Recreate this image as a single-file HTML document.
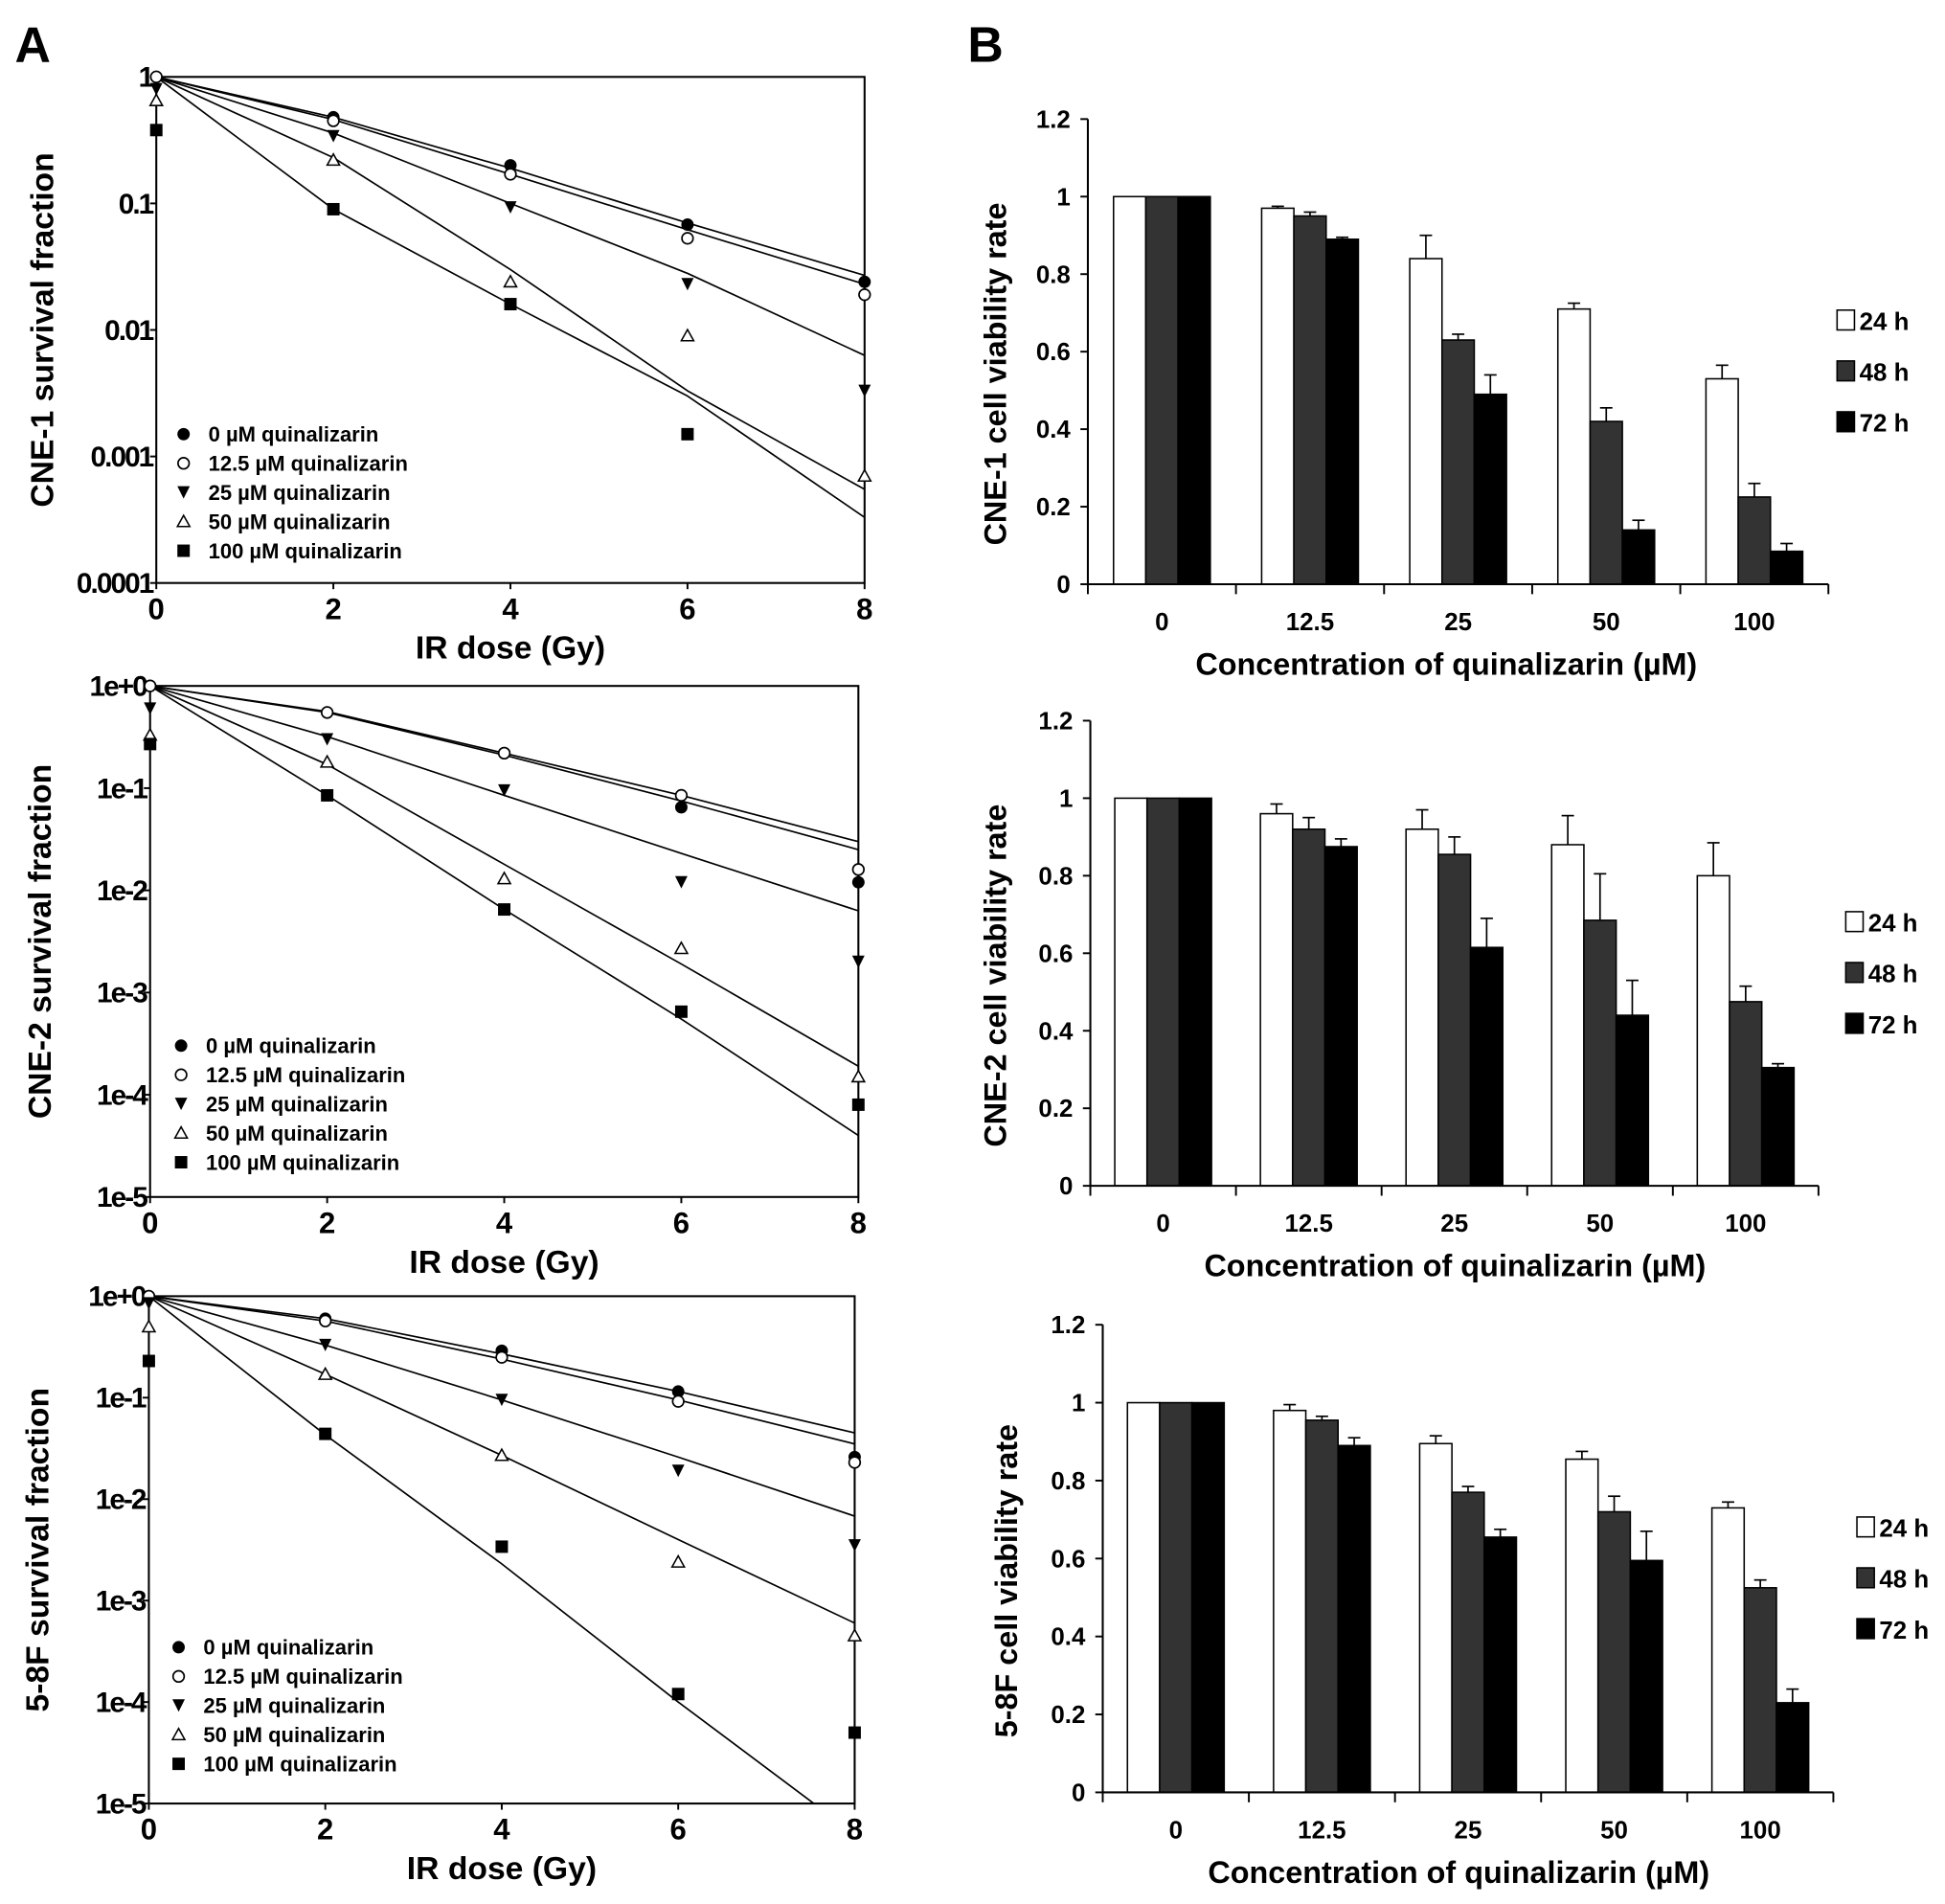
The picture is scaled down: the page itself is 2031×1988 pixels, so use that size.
<!DOCTYPE html>
<html><head><meta charset="utf-8">
<style>
html,body{margin:0;padding:0;background:#fff;}
svg{display:block;font-family:"Liberation Sans",Arial,sans-serif;font-weight:bold;}
</style></head>
<body>
<svg id="fig" width="2031" height="1988" viewBox="0 0 1568 1535" preserveAspectRatio="none" xmlns="http://www.w3.org/2000/svg">
<rect width="1568" height="1535" fill="#fff"/>
<text x="12" y="50" font-size="40">A</text>
<text x="780" y="50" font-size="40">B</text>
<g id="root"></g>
</svg>
<script>
// ---------- Panel A data (survival fractions at doses) ----------
const doses = [0, 2, 4, 6, 8];
const seriesNames = ["0 µM quinalizarin","12.5 µM quinalizarin","25 µM quinalizarin","50 µM quinalizarin","100 µM quinalizarin"];
const cne1Points = [
  [1, 0.48, 0.2, 0.068, 0.024],
  [1, 0.45, 0.17, 0.053, 0.019],
  [0.8, 0.34, 0.093, 0.023, 0.0033],
  [0.65, 0.22, 0.024, 0.009, 0.0007],
  [0.38, 0.09, 0.016, 0.0015, null]
];
const cne1Fit = [
  [1, 0.48, 0.19, 0.07, 0.027],
  [1, 0.46, 0.17, 0.062, 0.023],
  [1, 0.36, 0.1, 0.028, 0.0063],
  [1, 0.23, 0.03, 0.0033, 0.00055],
  [1, 0.09, 0.016, 0.003, 0.00033]
];
const cne2Points = [
  [1, 0.55, 0.22, 0.065, 0.012],
  [1, 0.55, 0.22, 0.085, 0.016],
  [0.6, 0.3, 0.095, 0.012, 0.002],
  [0.33, 0.18, 0.013, 0.0027, 0.00015],
  [0.27, 0.085, 0.0065, 0.00065, 0.00008]
];
const cne2Fit = [
  [1, 0.55, 0.21, 0.075, 0.025],
  [1, 0.56, 0.22, 0.085, 0.03],
  [1, 0.32, 0.085, 0.023, 0.0063],
  [1, 0.17, 0.018, 0.0019, 0.00019],
  [1, 0.085, 0.0065, 0.00055, 0.00004]
];
const f58Points = [
  [1, 0.6, 0.29, 0.115, 0.026],
  [1, 0.57, 0.25, 0.092, 0.023],
  [0.85, 0.33, 0.095, 0.019, 0.0035],
  [0.5, 0.17, 0.027, 0.0024, 0.00045],
  [0.23, 0.044, 0.0034, 0.00012, 0.00005]
];
const f58Fit = [
  [1, 0.6, 0.27, 0.115, 0.045],
  [1, 0.57, 0.24, 0.095, 0.035],
  [1, 0.33, 0.095, 0.026, 0.0068],
  [1, 0.17, 0.027, 0.004, 0.0006],
  [1, 0.043, 0.0023, 0.0001, 0.000005]
];
const aTicks1 = ["1","0.1","0.01","0.001","0.0001"];
const aTicksE = ["1e+0","1e-1","1e-2","1e-3","1e-4","1e-5"];

// ---------- Panel B data ----------
const concentrations = ["0","12.5","25","50","100"];
const timeLabels = ["24 h","48 h","72 h"];
const cne1Viab = [[1,1,1],[0.97,0.95,0.89],[0.84,0.63,0.49],[0.71,0.42,0.14],[0.53,0.225,0.085]];
const cne1Err  = [[0,0,0],[0.005,0.01,0.005],[0.06,0.015,0.05],[0.015,0.035,0.025],[0.035,0.035,0.02]];
const cne2Viab = [[1,1,1],[0.96,0.92,0.875],[0.92,0.855,0.615],[0.88,0.685,0.44],[0.80,0.475,0.305]];
const cne2Err  = [[0,0,0],[0.025,0.03,0.02],[0.05,0.045,0.075],[0.075,0.12,0.09],[0.085,0.04,0.01]];
const f58Viab  = [[1,1,1],[0.98,0.955,0.89],[0.895,0.77,0.655],[0.855,0.72,0.595],[0.73,0.525,0.23]];
const f58Err   = [[0,0,0],[0.015,0.01,0.02],[0.02,0.015,0.02],[0.02,0.04,0.075],[0.015,0.02,0.035]];
const bTicks = ["0","0.2","0.4","0.6","0.8","1","1.2"];

const NS = "http://www.w3.org/2000/svg";
const root = document.getElementById("root");
function mk(tag, attrs, parent, text) {
  const e = document.createElementNS(NS, tag);
  for (const k in attrs) e.setAttribute(k, attrs[k]);
  if (text !== undefined) e.textContent = text;
  (parent || root).appendChild(e);
  return e;
}

function marker(g, i, x, y) {
  const s = 5;
  let e;
  if (i === 0) e = mk("circle", {cx:x, cy:y, r:s, fill:"#000"}, g);
  else if (i === 1) e = mk("circle", {cx:x, cy:y, r:s-0.5, fill:"#fff", stroke:"#000", "stroke-width":1.3}, g);
  else if (i === 2) e = mk("polygon", {points:`${x-s},${y-s} ${x+s},${y-s} ${x},${y+s}`, fill:"#000"}, g);
  else if (i === 3) e = mk("polygon", {points:`${x-s},${y+s-1} ${x+s},${y+s-1} ${x},${y-s}`, fill:"#fff", stroke:"#000", "stroke-width":1.2}, g);
  else e = mk("rect", {x:x-s, y:y-s, width:2*s, height:2*s, fill:"#000"}, g);
  return e;
}

let clipId = 0;
function survivalPanel(cfg) {
  const g = mk("g", {});
  
  
  const {x0, x8, yTop, yBot, decades, ticks, points, fit} = cfg;
  const X = d => x0 + (x8 - x0) * d / 8;
  const Y = v => yTop + (yBot - yTop) * (-Math.log10(v)) / decades;
  const cid = "clip" + (clipId++);
  const cp = mk("clipPath", {id:cid}, g);
  mk("rect", {x:x0, y:yTop-10, width:x8-x0+10, height:yBot-yTop+10}, cp);
  const fr = mk("rect", {x:x0, y:yTop, width:x8-x0, height:yBot-yTop, fill:"none", stroke:"#000", "stroke-width":1.6}, g);
  
  
  ticks.forEach((t, k) => {
    const y = yTop + (yBot - yTop) * k / decades;
    mk("line", {x1:x0-5, x2:x0, y1:y, y2:y, stroke:"#000", "stroke-width":1.5}, g);
    const tl = mk("text", {x:x0-3, y:y+8, "font-size":23, "text-anchor":"end", "letter-spacing":"-1.5"}, g, t);
    
    
  });
  doses.forEach(d => {
    mk("line", {x1:X(d), x2:X(d), y1:yBot, y2:yBot+5, stroke:"#000", "stroke-width":1.5}, g);
    const tl = mk("text", {x:X(d), y:yBot+29, "font-size":24, "text-anchor":"middle"}, g, String(d));
    
    
  });
  for (let i = 0; i < 5; i++) {
    const pts = fit[i].map((v, j) => X(doses[j]).toFixed(1) + "," + Y(v).toFixed(1));
    const pl = mk("polyline", {points:pts.join(" "), fill:"none", stroke:"#000", "stroke-width":1.3, "clip-path":`url(#${cid})`, "stroke-linejoin":"round"}, g);
    
    
  }
  for (let i = 0; i < 5; i++) {
    points[i].forEach((v, j) => {
      if (v === null) return;
      const m = marker(g, i, X(doses[j]), Y(v));
      
      
    });
  }
  const lg = mk("g", {}, g);
  
  
  seriesNames.forEach((n, i) => {
    const y = cfg.legY + i * 23.5;
    marker(lg, i, cfg.legX, y);
    const t = mk("text", {x:cfg.legX + 20, y:y + 6, "font-size":17}, lg, n);
    
    
  });
  const xt = mk("text", {x:(x0+x8)/2, y:yBot+61, "font-size":26, "text-anchor":"middle"}, g, "IR dose (Gy)");
  
  
  const cy = (yTop + yBot) / 2;
  const yt = mk("text", {x:cfg.ytX, y:cy, "font-size":26, "text-anchor":"middle", transform:`rotate(-90 ${cfg.ytX} ${cy})`}, g, cfg.ytitle);
  
  
}

function barPanel(cfg) {
  const g = mk("g", {});
  
  
  const {ax, axEnd, y0, y12, vals, errs} = cfg;
  const Y = v => y0 + (y12 - y0) * v / 1.2;
  const cw = (axEnd - ax) / concentrations.length;
  const bw = 26;
  const fills = ["#fff", "#333", "#000"];
  bTicks.forEach(t => {
    const y = Y(parseFloat(t));
    mk("line", {x1:ax-6, x2:ax, y1:y, y2:y, stroke:"#000", "stroke-width":1.5}, g);
    const tl = mk("text", {x:ax-14, y:y+7, "font-size":20, "text-anchor":"end"}, g, t);
    
    
  });
  for (let c = 0; c <= concentrations.length; c++) {
    mk("line", {x1:ax + c*cw, x2:ax + c*cw, y1:y0, y2:y0+8, stroke:"#000", "stroke-width":1.5}, g);
  }
  concentrations.forEach((c, ci) => {
    const cx = ax + cw * (ci + 0.5);
    const tl = mk("text", {x:cx, y:y0+37, "font-size":20, "text-anchor":"middle"}, g, c);
    
    
    for (let s = 0; s < 3; s++) {
      const bx = cx - 1.5*bw + s*bw;
      const v = vals[ci][s], e = errs[ci][s];
      const r = mk("rect", {x:bx, y:Y(v), width:bw, height:y0 - Y(v), fill:fills[s], stroke:"#000", "stroke-width":1.2}, g);
      
      
      if (e > 0) {
        const xm = bx + bw/2;
        mk("line", {x1:xm, x2:xm, y1:Y(v), y2:Y(v+e), stroke:"#000", "stroke-width":1.3}, g);
        mk("line", {x1:xm-5, x2:xm+5, y1:Y(v+e), y2:Y(v+e), stroke:"#000", "stroke-width":1.3}, g);
      }
    }
  });
  mk("line", {x1:ax, x2:ax, y1:y0, y2:y12, stroke:"#000", "stroke-width":1.6}, g);
  mk("line", {x1:ax, x2:axEnd, y1:y0, y2:y0, stroke:"#000", "stroke-width":1.6}, g);
  const lg = mk("g", {}, g);
  
  
  timeLabels.forEach((t, s) => {
    const y = cfg.legY + s * 41;
    mk("rect", {x:cfg.legX, y:y-8, width:14, height:16, fill:fills[s], stroke:"#000", "stroke-width":1.2}, lg);
    const tt = mk("text", {x:cfg.legX + 18, y:y + 8, "font-size":20}, lg, t);
    
    
  });
  const xt = mk("text", {x:cfg.xtX, y:y0+73, "font-size":25, "text-anchor":"middle"}, g, "Concentration of quinalizarin (µM)");
  
  
  const cy = (y0 + y12) / 2 + 18;
  const yt = mk("text", {x:cfg.ytX, y:cy, "font-size":25, "text-anchor":"middle", transform:`rotate(-90 ${cfg.ytX} ${cy})`}, g, cfg.ytitle);
  
  
}

survivalPanel({name:"cne1-survival-chart", x0:126, x8:697, yTop:62, yBot:470, decades:4, ticks:aTicks1,
  points:cne1Points, fit:cne1Fit, legX:148, legY:350, ytX:43, ytitle:"CNE-1 survival fraction"});
survivalPanel({name:"cne2-survival-chart", x0:121, x8:692, yTop:553, yBot:965, decades:5, ticks:aTicksE,
  points:cne2Points, fit:cne2Fit, legX:146, legY:843, ytX:41, ytitle:"CNE-2 survival fraction"});
survivalPanel({name:"5-8f-survival-chart", x0:120, x8:689, yTop:1045, yBot:1454, decades:5, ticks:aTicksE,
  points:f58Points, fit:f58Fit, legX:144, legY:1328, ytX:39, ytitle:"5-8F survival fraction"});

barPanel({name:"cne1-viability-chart", ax:877, axEnd:1474, y0:471, y12:96, vals:cne1Viab, errs:cne1Err,
  legX:1481, legY:258, xtX:1166, ytX:811, ytitle:"CNE-1 cell viability rate"});
barPanel({name:"cne2-viability-chart", ax:879, axEnd:1466, y0:956, y12:581, vals:cne2Viab, errs:cne2Err,
  legX:1488, legY:743, xtX:1173, ytX:811, ytitle:"CNE-2 cell viability rate"});
barPanel({name:"5-8f-viability-chart", ax:889, axEnd:1478, y0:1445, y12:1068, vals:f58Viab, errs:f58Err,
  legX:1497, legY:1231, xtX:1176, ytX:820, ytitle:"5-8F cell viability rate"});
</script>
</body></html>
